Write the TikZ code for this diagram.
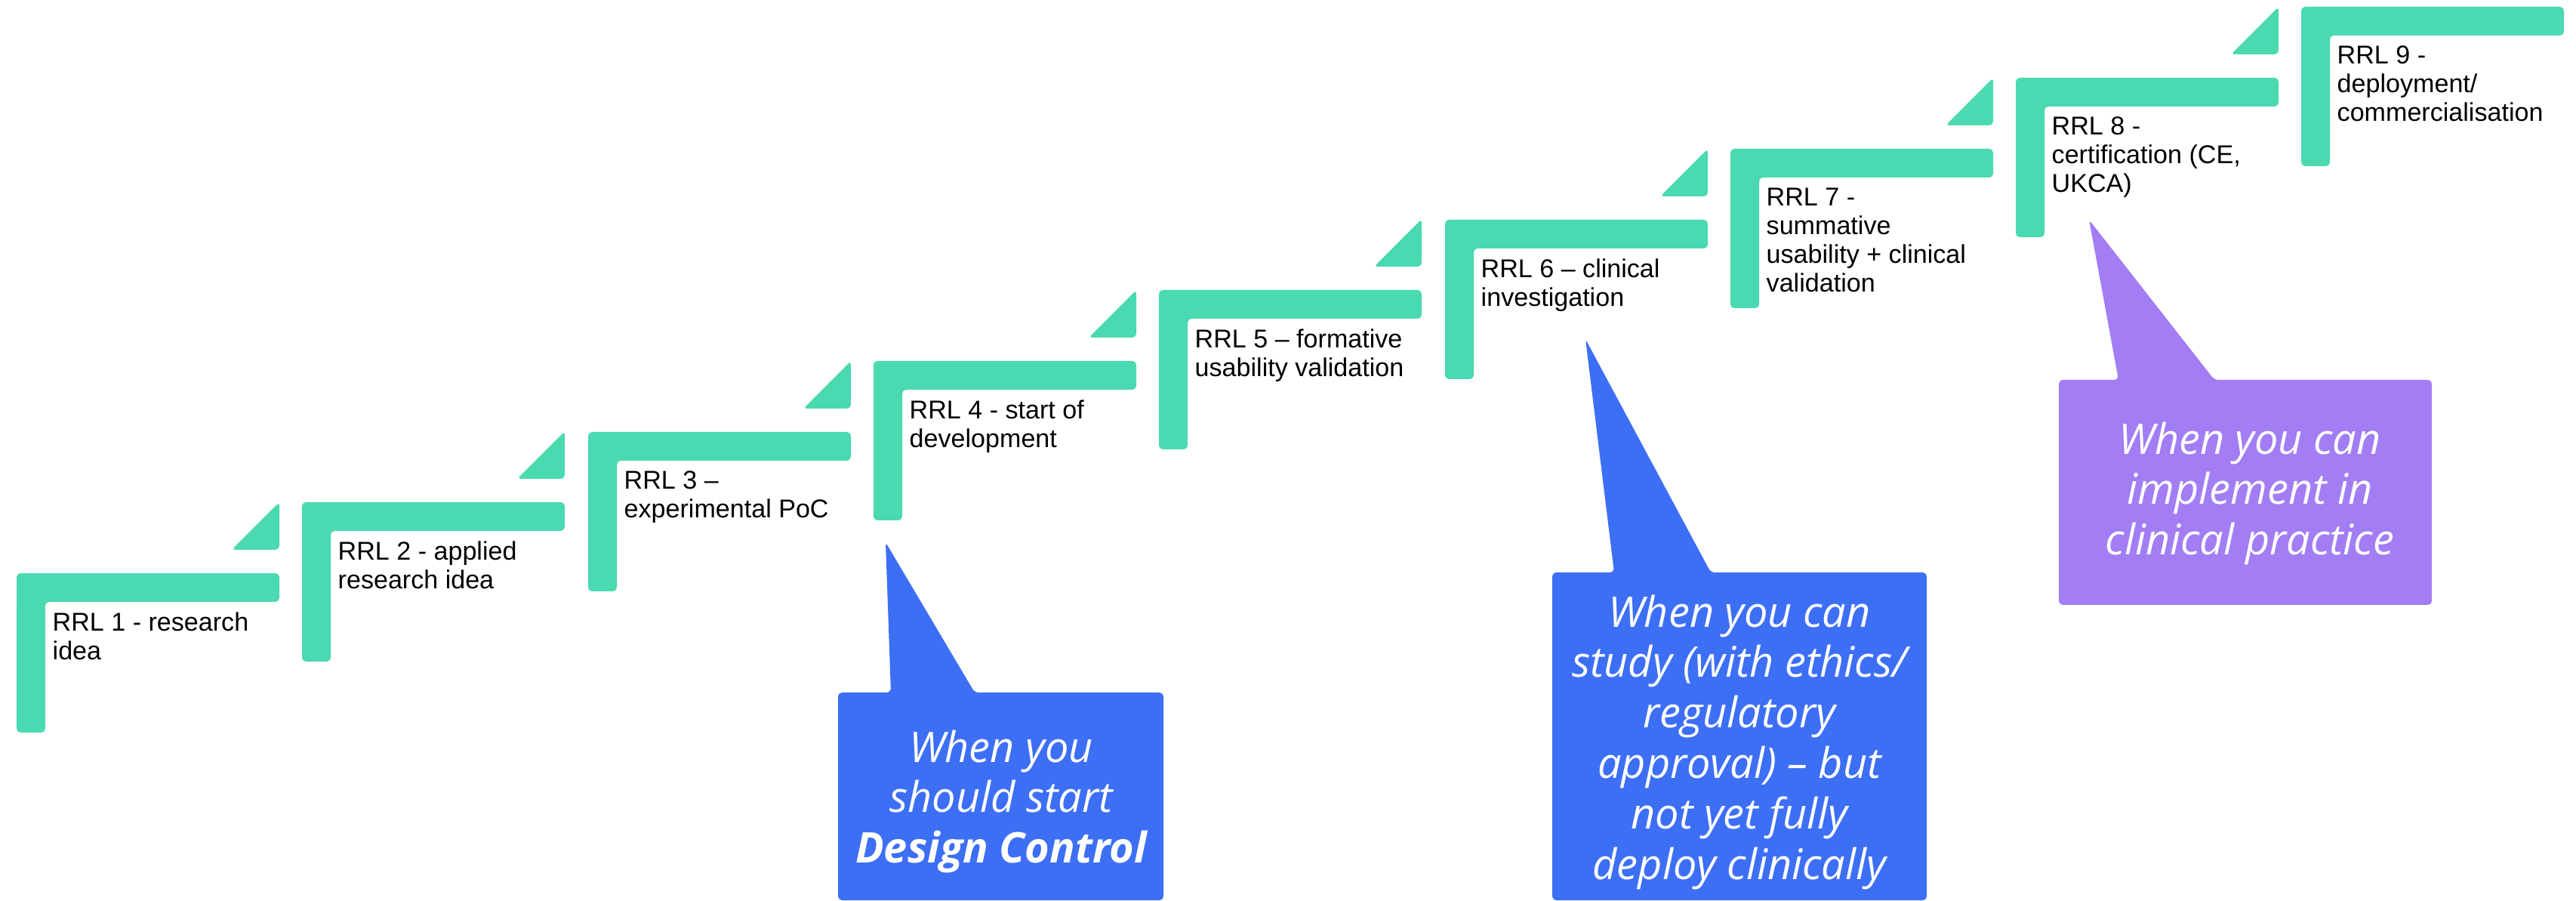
\documentclass[tikz,border=0pt]{standalone}
\usepackage{fontspec}
\setmainfont{Liberation Sans}
\newfontfamily\notefont{Open Sans}
\usepackage{tikz}
\definecolor{rrlgreen}{RGB}{74,217,177}
\definecolor{noteblue}{RGB}{61,111,245}
\definecolor{notepurple}{RGB}{162,125,243}

\begin{document}
\begin{tikzpicture}[
    stepbar/.style={fill=rrlgreen, rounded corners=1.5pt},
    steplabel/.style={anchor=north west, inner sep=0pt, align=left, font=\fontsize{9.7}{10.8}\selectfont},
    notebox/.style={rounded corners=1.5pt},
    notetext/.style={anchor=north, inner sep=0pt, align=center, text=white, font=\notefont\itshape\fontsize{15.9}{19}\selectfont}
]
    \useasboundingbox (0,0) rectangle (34.12,11.92);
    \fill[stepbar] (0.22,4.33) -- ++(3.48,0) -- ++(0,-0.38) -- ++(-3.10,0) -- ++(0,-1.73) -- ++(-0.38,0) -- cycle;
    \fill[stepbar] (4.00,5.27) -- ++(3.48,0) -- ++(0,-0.38) -- ++(-3.10,0) -- ++(0,-1.73) -- ++(-0.38,0) -- cycle;
    \fill[stepbar] (7.79,6.20) -- ++(3.48,0) -- ++(0,-0.38) -- ++(-3.10,0) -- ++(0,-1.73) -- ++(-0.38,0) -- cycle;
    \fill[stepbar] (11.57,7.14) -- ++(3.48,0) -- ++(0,-0.38) -- ++(-3.10,0) -- ++(0,-1.73) -- ++(-0.38,0) -- cycle;
    \fill[stepbar] (15.35,8.08) -- ++(3.48,0) -- ++(0,-0.38) -- ++(-3.10,0) -- ++(0,-1.73) -- ++(-0.38,0) -- cycle;
    \fill[stepbar] (19.14,9.01) -- ++(3.48,0) -- ++(0,-0.38) -- ++(-3.10,0) -- ++(0,-1.73) -- ++(-0.38,0) -- cycle;
    \fill[stepbar] (22.92,9.95) -- ++(3.48,0) -- ++(0,-0.38) -- ++(-3.10,0) -- ++(0,-1.73) -- ++(-0.38,0) -- cycle;
    \fill[stepbar] (26.70,10.89) -- ++(3.48,0) -- ++(0,-0.38) -- ++(-3.10,0) -- ++(0,-1.73) -- ++(-0.38,0) -- cycle;
    \fill[stepbar] (30.48,11.83) -- ++(3.48,0) -- ++(0,-0.38) -- ++(-3.10,0) -- ++(0,-1.73) -- ++(-0.38,0) -- cycle;
    \fill[stepbar] (3.70,4.64) -- ++(0,0.63) -- ++(-0.63,-0.63) -- cycle;
    \fill[stepbar] (7.48,5.58) -- ++(0,0.63) -- ++(-0.63,-0.63) -- cycle;
    \fill[stepbar] (11.27,6.51) -- ++(0,0.63) -- ++(-0.63,-0.63) -- cycle;
    \fill[stepbar] (15.05,7.45) -- ++(0,0.63) -- ++(-0.63,-0.63) -- cycle;
    \fill[stepbar] (18.83,8.39) -- ++(0,0.63) -- ++(-0.63,-0.63) -- cycle;
    \fill[stepbar] (22.62,9.32) -- ++(0,0.63) -- ++(-0.63,-0.63) -- cycle;
    \fill[stepbar] (26.40,10.26) -- ++(0,0.63) -- ++(-0.63,-0.63) -- cycle;
    \fill[stepbar] (30.18,11.20) -- ++(0,0.63) -- ++(-0.63,-0.63) -- cycle;
    \node[steplabel] (rrl1) at (0.69,3.82) {RRL 1 - research\\idea};
    \node[steplabel] (rrl2) at (4.47,4.76) {RRL 2 - applied\\research idea};
    \node[steplabel] (rrl3) at (8.26,5.69) {RRL 3 –\\experimental PoC};
    \node[steplabel] (rrl4) at (12.04,6.63) {RRL 4 - start of\\development};
    \node[steplabel] (rrl5) at (15.82,7.57) {RRL 5 – formative\\usability validation};
    \node[steplabel] (rrl6) at (19.61,8.50) {RRL 6 – clinical\\investigation};
    \node[steplabel] (rrl7) at (23.39,9.44) {RRL 7 -\\summative\\usability + clinical\\validation};
    \node[steplabel] (rrl8) at (27.17,10.38) {RRL 8 -\\certification (CE,\\UKCA)};
    \node[steplabel] (rrl9) at (30.95,11.32) {RRL 9 -\\deployment/\\commercialisation};
    \fill[noteblue, notebox] (11.10,0) -- (11.10,2.75) -- (11.80,2.75) -- (11.73,4.74) -- (12.91,2.75) -- (15.41,2.75) -- (15.41,0) -- cycle;
    \fill[noteblue, notebox] (20.56,0) -- (20.56,4.34) -- (21.38,4.34) -- (21.00,7.43) -- (22.66,4.34) -- (25.52,4.34) -- (25.52,0) -- cycle;
    \fill[notepurple, notebox] (27.27,3.91) -- (27.27,6.89) -- (28.06,6.89) -- (27.67,9.01) -- (29.33,6.89) -- (32.21,6.89) -- (32.21,3.91) -- cycle;
    \node[notetext] (note1) at (13.26,2.26) {When you\\should start\\{\bfseries Design Control}};
    \node[notetext] (note2) at (23.04,4.05) {When you can\\study (with ethics/\\regulatory\\approval) – but\\not yet fully\\deploy clinically};
    \node[notetext] (note3) at (29.80,6.34) {When you can\\implement in\\clinical practice};
\end{tikzpicture}
\end{document}
